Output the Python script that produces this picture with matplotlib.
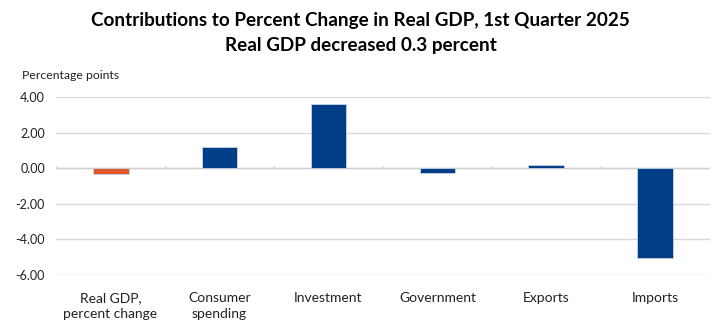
import matplotlib.pyplot as plt
import numpy as np

plt.rcParams['font.family'] = ['Lato', 'DejaVu Sans']

categories = ["Real GDP,\npercent change", "Consumer\nspending", "Investment",
              "Government", "Exports", "Imports"]
contributions = [-0.3, 1.21, 3.60, -0.25, 0.19, -5.03]
bar_colors = ["#E0582A", "#003F87", "#003F87", "#003F87", "#003F87", "#003F87"]
yticks = [4, 2, 0, -2, -4, -6]

fig = plt.figure(figsize=(7.21, 3.28), dpi=100)
ax = fig.add_axes([0.0777, 0.1616, 0.907, 0.5427])

x = np.arange(len(categories))
ax.bar(x, contributions, width=0.33, color=bar_colors,
       edgecolor="#C9D3E3", linewidth=0.6, zorder=3)

ax.set_ylim(-6, 4)
ax.set_xlim(-0.5, len(categories) - 0.5)
ax.set_yticks(yticks)
ax.set_yticklabels([f"{v:.2f}" for v in yticks], fontsize=9, color="#222222")
ax.tick_params(axis="y", length=0, pad=8)
ax.grid(axis="y", color="#D9D9D9", linewidth=1.0, zorder=0)

ax.set_xticks(x)
ax.set_xticklabels(categories, fontsize=10, color="#222222", linespacing=1.45)
ax.tick_params(axis="x", length=0, pad=12)

for side in ["top", "right", "left", "bottom"]:
    ax.spines[side].set_visible(False)

# zero line and the small category separators above it
ax.axhline(0, color="#D0D0D0", linewidth=1.0, zorder=2)
ax.vlines(np.arange(len(categories) + 1) - 0.5, 0, 0.14,
          color="#D0D0D0", linewidth=1.0, zorder=2)

fig.text(0.0305, 0.77, "Percentage points", fontsize=8.8, color="#222222",
         va="center", ha="left")
fig.text(0.5, 0.937, "Contributions to Percent Change in Real GDP, 1st Quarter 2025",
         fontsize=13.6, fontweight="bold", ha="center", va="center")
fig.text(0.5, 0.86, "Real GDP decreased 0.3 percent",
         fontsize=13.6, fontweight="bold", ha="center", va="center")

fig.savefig("out.png", dpi=100)
